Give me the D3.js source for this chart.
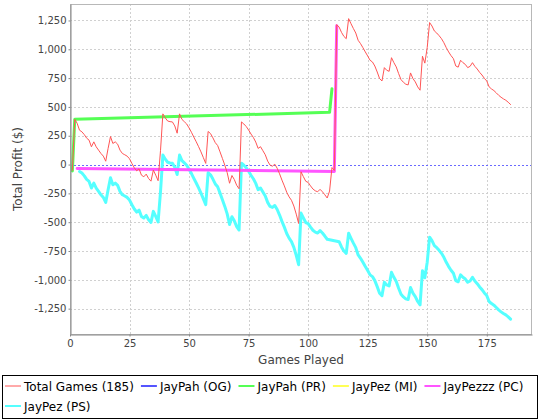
<!DOCTYPE html>
<html><head><meta charset="utf-8">
<script src="https://cdn.jsdelivr.net/npm/d3@7"></script>
<style>
body{margin:0;background:#fff;}
svg{display:block;}
text{font-family:"DejaVu Sans",sans-serif;}
</style>
</head><body>
<svg id="c" width="540" height="420"></svg>
<script>
// ---------------- DATA ----------------
const seriesNames = ["Total Games (185)","JayPah (OG)","JayPah (PR)","JayPez (MI)","JayPezzz (PC)","JayPez (PS)"];
const seriesColors = ["#ff5555","#5555ff","#55ff55","#ffff55","#ff55ff","#55ffff"];

// Total Games: one value per game, games 1..185
const totalValues = [
 -50,393,358,298,284,260,229,212,154,197,
 154,125,96,73,29,140,243,183,197,177,
 125,96,85,73,50,9,-28,-54,-37,-92,
 -106,-83,-121,-144,-48,-92,-140,120,440,405,
 378,372,370,335,272,440,392,372,352,318,
 280,238,198,155,110,60,10,287,269,232,
 190,165,110,53,-5,-70,-162,-95,-130,-180,
 -210,370,352,330,300,265,235,195,140,155,
 120,85,30,-5,-14,3,-32,-80,-135,-185,
 -240,-280,-310,-360,-430,-511,-63,-105,-145,-155,
 -185,-212,-228,-236,-215,-236,-262,-290,-230,-26,
 -51,1214,1193,1147,1112,1092,1266,1222,1180,1141,
 1078,1049,1014,977,942,905,890,855,803,746,
 725,841,818,809,927,884,847,789,737,714,
 697,691,795,746,717,674,645,940,880,1015,
 1232,1202,1159,1141,1118,1092,1057,1014,977,945,
 919,855,845,905,884,869,841,852,884,852,
 829,800,777,748,725,674,656,642,622,601,
 584,570,558,541,521
];

// JayPah (OG) and JayPez (MI): no plotted points
const ogGames = [];
const ogValues = [];
const miGames = [];
const miValues = [];

// JayPah (PR)
const prGames = [1,2,109,110];
const prValues = [-55,393,453,657];

// JayPezzz (PC)
const pcGames = [3,111,112];
const pcValues = [-35,-60,1205];

// JayPez (PS): games 4..108 and 113..185
const psGames = d3.range(4,109).concat(d3.range(113,186));
const psValues = [
 -60,-74,-98,-129,-146,-204,-161,-204,-233,-262,
 -285,-329,-218,-115,-175,-161,-181,-233,-262,-273,
 -285,-308,-349,-386,-412,-395,-450,-464,-441,-479,
 -502,-406,-450,-498,-238,82,47,20,14,12,
 -23,-86,82,34,14,-6,-40,-78,-120,-160,
 -203,-248,-298,-348,-71,-89,-126,-168,-193,-248,
 -305,-363,-428,-520,-453,-488,-538,-568,12,-6,
 -28,-58,-93,-123,-163,-218,-203,-238,-273,-328,
 -363,-372,-355,-390,-438,-493,-543,-598,-638,-668,
 -718,-788,-869,-421,-463,-503,-513,-543,-570,-586,
 -594,-573,-594,-620,-648,
 -669,-715,-750,-770,-596,-640,-682,-721,-784,-813,
 -848,-885,-920,-957,-972,-1007,-1059,-1116,-1137,-1021,
 -1044,-1053,-935,-978,-1015,-1073,-1125,-1148,-1165,-1171,
 -1067,-1116,-1145,-1188,-1217,-922,-982,-847,-630,-660,
 -703,-721,-744,-770,-805,-848,-885,-917,-943,-1007,
 -1017,-957,-978,-993,-1021,-1010,-978,-1010,-1033,-1062,
 -1085,-1114,-1137,-1188,-1206,-1220,-1240,-1261,-1278,-1292,
 -1304,-1321,-1341
];

const xTicks = [0,25,50,75,100,125,150,175];
const yTicks = [-1250,-1000,-750,-500,-250,0,250,500,750,1000,1250];
const zeroMarker = 0;
const xDomain = [0,194];
const yDomain = [-1470,1393];
const xLabel = "Games Played";
const yLabel = "Total Profit ($)";

// ---------------- CHART ----------------
const svg = d3.select("#c");
const P = {l:70, r:532, t:4, b:334};
const x = d3.scaleLinear().domain(xDomain).range([P.l, P.r]);
const y = d3.scaleLinear().domain(yDomain).range([P.b, P.t]);

svg.append("rect").attr("width",540).attr("height",420).attr("fill","#fff");

// grid
const grid = svg.append("g").attr("stroke","#d0d0d0").attr("stroke-width",1).attr("stroke-dasharray","2,2");
grid.selectAll("line.gx").data(xTicks.filter(d=>d>0)).join("line")
  .attr("x1",d=>Math.round(x(d))+0.5).attr("x2",d=>Math.round(x(d))+0.5)
  .attr("y1",P.t).attr("y2",P.b);
grid.selectAll("line.gy").data(yTicks.filter(d=>d!==zeroMarker)).join("line")
  .attr("y1",d=>Math.round(y(d))+0.5).attr("y2",d=>Math.round(y(d))+0.5)
  .attr("x1",P.l).attr("x2",P.r);

// zero marker
svg.append("line")
  .attr("x1",P.l).attr("x2",P.r)
  .attr("y1",Math.round(y(zeroMarker))+0.5).attr("y2",Math.round(y(zeroMarker))+0.5)
  .attr("stroke","#6a6aff").attr("stroke-width",1).attr("stroke-dasharray","2,2");

// series
const series = [
  {g: totalValues.map((v,i)=>i+1), v: totalValues, w:1},
  {g: ogGames, v: ogValues, w:3},
  {g: prGames, v: prValues, w:3},
  {g: miGames, v: miValues, w:3},
  {g: pcGames, v: pcValues, w:3},
  {g: psGames, v: psValues, w:3}
];
const line = d3.line().x(d=>x(d[0])).y(d=>y(d[1]));
const sg = svg.append("g");
for (let i = series.length-1; i >= 0; i--) {
  const s = series[i];
  const pts = s.g.map((g,k)=>[g, s.v[k]]);
  if (pts.length < 2) continue;
  sg.append("path").datum(pts).attr("d", line)
    .attr("fill","none").attr("stroke", seriesColors[i])
    .attr("stroke-width", s.w).attr("stroke-linejoin","round").attr("stroke-linecap","round");
}

// plot outline
svg.append("rect").attr("x",P.l+0.5).attr("y",P.t+0.5)
  .attr("width",P.r-P.l-1).attr("height",P.b-P.t)
  .attr("fill","none").attr("stroke","#b8b8b8").attr("stroke-width",1);

// axes
const fmt = d => d3.format(",")(d).replace("\u2212","-");
const ax = svg.append("g").attr("transform",`translate(0,${P.b+0.5})`)
  .call(d3.axisBottom(x).tickValues(xTicks).tickSize(2).tickSizeOuter(0).tickPadding(3).tickFormat(d3.format("d")));
const ay = svg.append("g").attr("transform",`translate(${P.l+0.5},0)`)
  .call(d3.axisLeft(y).tickValues(yTicks).tickSize(2).tickSizeOuter(0).tickPadding(2).tickFormat(fmt));
[ax,ay].forEach(a=>{
  a.select(".domain").attr("stroke","#888");
  a.selectAll(".tick line").attr("stroke","#888");
  a.selectAll(".tick text").attr("fill","#444").style("font-family","'DejaVu Sans',sans-serif").style("font-size","10px");
});

// axis labels
svg.append("text").attr("x",(P.l+P.r)/2).attr("y",364).attr("text-anchor","middle")
  .attr("font-size",12).attr("fill","#444").text(xLabel);
svg.append("text").attr("transform",`translate(22,${(P.t+P.b)/2}) rotate(-90)`)
  .attr("text-anchor","middle").attr("font-size",12).attr("fill","#444").text(yLabel);

// legend
const L = {x:2, y:375, w:535, h:43};
svg.append("rect").attr("x",L.x+0.5).attr("y",L.y+0.5).attr("width",L.w).attr("height",L.h)
  .attr("fill","#fff").attr("stroke","#000").attr("stroke-width",1);
let lx = L.x + 3, row = 0;
const rowY = [386, 406];
seriesNames.forEach((name,i)=>{
  const g = svg.append("g");
  const t = g.append("text").attr("font-size",12).attr("fill","#000").text(name);
  const tw = t.node().getComputedTextLength();
  const itemW = 16 + 3 + tw + 7;
  if (lx + itemW > L.x + L.w) { row++; lx = L.x + 3; }
  const cy = rowY[row];
  g.insert("line","text").attr("x1",lx).attr("x2",lx+16).attr("y1",cy).attr("y2",cy)
    .attr("stroke",seriesColors[i]).attr("stroke-width", i===0 ? 1 : 2);
  t.attr("x",lx+19).attr("y",cy+4.5);
  lx += itemW;
});
</script>
</body></html>
